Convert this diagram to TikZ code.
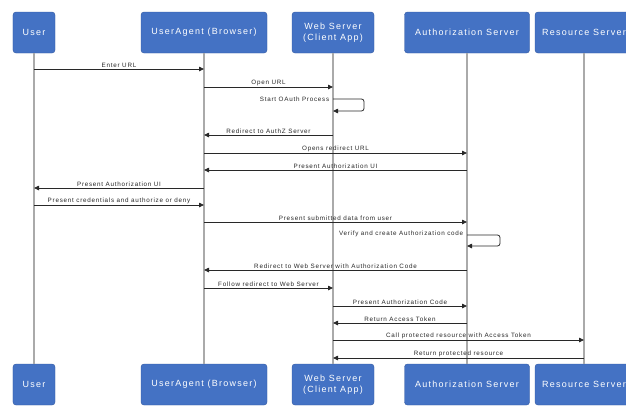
\documentclass[tikz,border=0pt]{standalone}
\usepackage{fontspec}
\setmainfont{Liberation Sans}
\newfontfamily\lblfont[LetterSpace=12]{Liberation Sans}
\newfontfamily\boxfont[LetterSpace=14]{Liberation Sans}
\usetikzlibrary{arrows.meta}
\definecolor{boxblue}{RGB}{68,114,196}
\definecolor{boxedge}{RGB}{50,88,160}
\definecolor{lifegray}{RGB}{170,170,170}
\definecolor{msggray}{RGB}{40,40,40}
\begin{document}
\begin{tikzpicture}[x=1bp,y=-1bp,
  actor/.style={draw=boxedge,fill=boxblue,rounded corners=3bp,text=white,
    font=\boxfont\fontsize{9}{11}\selectfont,align=center,inner sep=0pt},
  lifeline/.style={draw=lifegray,line width=1.4bp},
  msg/.style={draw=msggray,line width=0.8bp,-{Triangle[length=5bp,width=4.5bp]}},
  lbl/.style={font=\lblfont\fontsize{6.3}{7}\selectfont,text=msggray,anchor=south,inner sep=0.6bp},
  lblr/.style={font=\lblfont\fontsize{6.3}{7}\selectfont,text=msggray,anchor=east,inner sep=0.6bp}]
\useasboundingbox (0,0) rectangle (626,407);
\fill[white] (0,0) rectangle (626,407);
% top actors
\node[actor,minimum width=42bp,minimum height=41bp] (t1) at (34,32.5) {User};
\node[actor,minimum width=126bp,minimum height=41bp] (t2) at (204,32.5) {UserAgent (Browser)};
\node[actor,minimum width=82bp,minimum height=41bp] (t3) at (333,32.5) {Web Server\\(Client App)};
\node[actor,minimum width=125bp,minimum height=41bp] (t4) at (467,32.5) {Authorization Server};
\node[actor,minimum width=98bp,minimum height=41bp] (t5) at (584,32.5) {Resource Server};
% bottom actors
\node[actor,minimum width=42bp,minimum height=41bp] (b1) at (34,384.5) {User};
\node[actor,minimum width=126bp,minimum height=41bp] (b2) at (204,384.5) {UserAgent (Browser)};
\node[actor,minimum width=82bp,minimum height=41bp] (b3) at (333,384.5) {Web Server\\(Client App)};
\node[actor,minimum width=125bp,minimum height=41bp] (b4) at (467,384.5) {Authorization Server};
\node[actor,minimum width=98bp,minimum height=41bp] (b5) at (584,384.5) {Resource Server};
% lifelines
\foreach \i in {1,...,5} {\draw[lifeline] (t\i.south) -- (b\i.north);}
% message coordinates
\coordinate (m1a) at (34,69);   \coordinate (m1b) at (204,69);
\coordinate (m2a) at (204,87);  \coordinate (m2b) at (333,87);
\coordinate (s1a) at (333,99);  \coordinate (s1b) at (333,111);
\coordinate (m3a) at (333,135); \coordinate (m3b) at (204,135);
\coordinate (m4a) at (204,153); \coordinate (m4b) at (467,153);
\coordinate (m5a) at (467,170); \coordinate (m5b) at (204,170);
\coordinate (m6a) at (204,188); \coordinate (m6b) at (34,188);
\coordinate (m7a) at (34,205);  \coordinate (m7b) at (204,205);
\coordinate (m8a) at (204,222); \coordinate (m8b) at (467,222);
\coordinate (s2a) at (467,235); \coordinate (s2b) at (467,246);
\coordinate (m9a) at (467,270); \coordinate (m9b) at (204,270);
\coordinate (m10a) at (204,288); \coordinate (m10b) at (333,288);
\coordinate (m11a) at (333,306); \coordinate (m11b) at (467,306);
\coordinate (m12a) at (467,323); \coordinate (m12b) at (333,323);
\coordinate (m13a) at (333,340); \coordinate (m13b) at (584,340);
\coordinate (m14a) at (584,358); \coordinate (m14b) at (333,358);
% messages
\draw[msg] (m1a) -- node[lbl]{Enter URL} (m1b);
\draw[msg] (m2a) -- node[lbl]{Open URL} (m2b);
\draw[msg,rounded corners=2.5bp] (s1a) -- ++(31,0) -- ++(0,12) -- (s1b);
\node[lblr] (l1) at (330,99) {Start OAuth Process};
\draw[msg] (m3a) -- node[lbl]{Redirect to AuthZ Server} (m3b);
\draw[msg] (m4a) -- node[lbl]{Opens redirect URL} (m4b);
\draw[msg] (m5a) -- node[lbl]{Present Authorization UI} (m5b);
\draw[msg] (m6a) -- node[lbl]{Present Authorization UI} (m6b);
\draw[msg] (m7a) -- node[lbl]{Present credentials and authorize or deny} (m7b);
\draw[msg] (m8a) -- node[lbl]{Present submitted data from user} (m8b);
\draw[msg,rounded corners=2.5bp] (s2a) -- ++(33,0) -- ++(0,11) -- (s2b);
\node[lblr] (l2) at (464,234) {Verify and create Authorization code};
\draw[msg] (m9a) -- node[lbl]{Redirect to Web Server with Authorization Code} (m9b);
\draw[msg] (m10a) -- node[lbl]{Follow redirect to Web Server} (m10b);
\draw[msg] (m11a) -- node[lbl]{Present Authorization Code} (m11b);
\draw[msg] (m12a) -- node[lbl]{Return Access Token} (m12b);
\draw[msg] (m13a) -- node[lbl]{Call protected resource with Access Token} (m13b);
\draw[msg] (m14a) -- node[lbl]{Return protected resource} (m14b);
\end{tikzpicture}
\end{document}
